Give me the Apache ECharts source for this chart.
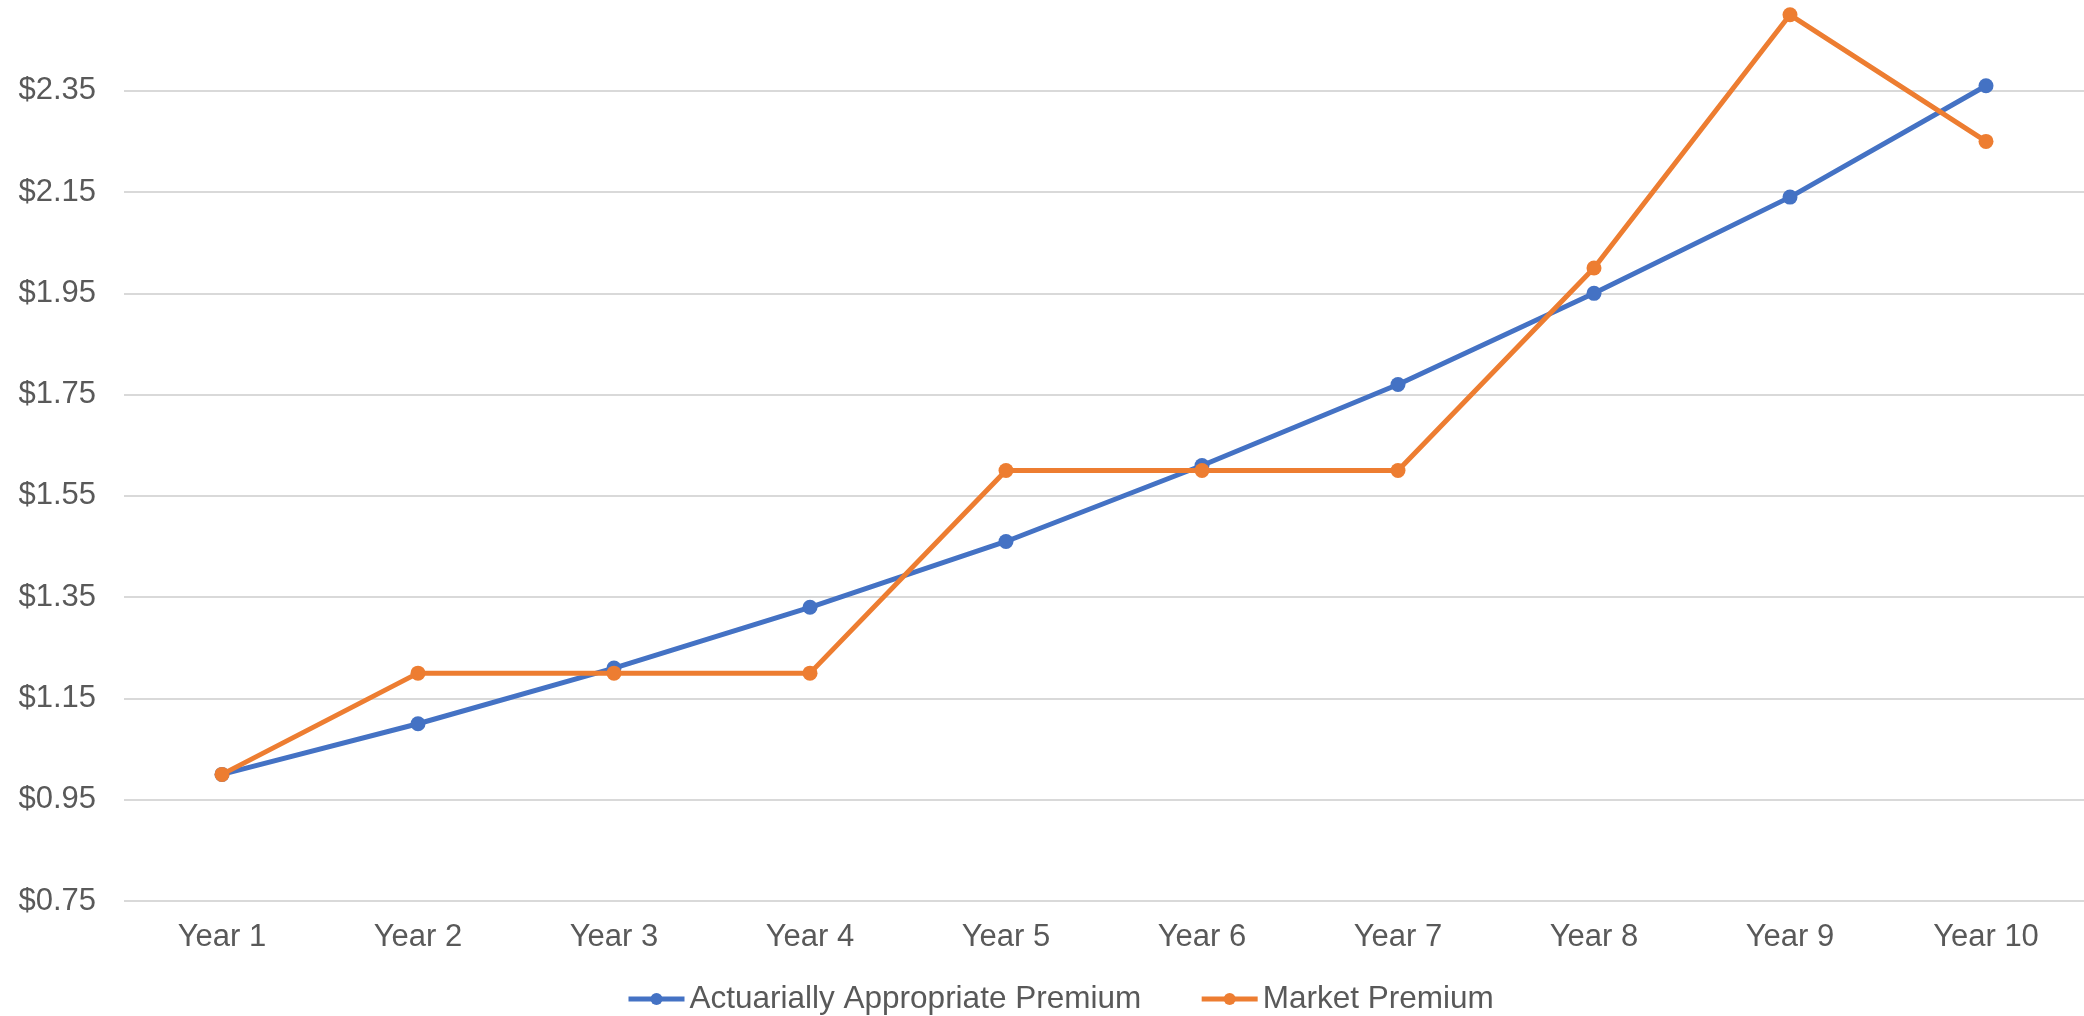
<!DOCTYPE html>
<html>
<head>
<meta charset="utf-8">
<script src="https://cdn.jsdelivr.net/npm/echarts@6/dist/echarts.min.js"></script>
<style>
html,body{margin:0;padding:0;background:#fff;}
#chart{width:2084px;height:1016px;}
</style>
</head>
<body>
<div id="chart"></div>
<script>
const categories = ['Year 1','Year 2','Year 3','Year 4','Year 5','Year 6','Year 7','Year 8','Year 9','Year 10'];
const actuarialPremium = [1.00, 1.10, 1.21, 1.33, 1.46, 1.61, 1.77, 1.95, 2.14, 2.36];
const marketPremium = [1.00, 1.20, 1.20, 1.20, 1.60, 1.60, 1.60, 2.00, 2.50, 2.25];
const seriesNames = ['Actuarially Appropriate Premium', 'Market Premium'];
const yMin = 0.75, yMax = 2.55, yStep = 0.2;

const FONT = '"Liberation Sans", Arial, sans-serif';
const TXT = '#595959';

const chart = echarts.init(document.getElementById('chart'), null, {renderer: 'canvas'});
chart.setOption({
  animation: false,
  backgroundColor: '#ffffff',
  grid: {left: 124, right: 0, top: -10.5, bottom: 115, containLabel: false, outerBoundsMode: 'none'},
  legend: {
    left: 626,
    top: 983,
    padding: 0,
    itemWidth: 56,
    itemHeight: 15,
    itemGap: 58,
    lineStyle: {width: 5},
    itemStyle: {borderWidth: 0},
    textStyle: {fontFamily: FONT, fontSize: 31.5, color: TXT, padding: [0, 0, 0, 0]},
    data: seriesNames
  },
  xAxis: {
    type: 'category',
    data: categories,
    boundaryGap: true,
    axisLine: {show: false},
    axisTick: {show: false},
    axisLabel: {fontFamily: FONT, fontSize: 31, color: TXT, margin: 21}
  },
  yAxis: {
    type: 'value',
    min: yMin,
    max: yMax,
    interval: yStep,
    axisLine: {show: false},
    axisTick: {show: false},
    splitLine: {lineStyle: {color: '#d9d9d9', width: 2}},
    axisLabel: {
      fontFamily: FONT, fontSize: 31, color: TXT, margin: 28,
      showMaxLabel: false,
      formatter: v => '$' + v.toFixed(2)
    }
  },
  series: [
    {
      name: seriesNames[0],
      type: 'line',
      data: actuarialPremium,
      color: '#4472C4',
      lineStyle: {width: 5, color: '#4472C4'},
      symbol: 'circle',
      symbolSize: 15,
      itemStyle: {color: '#4472C4'},
      z: 2
    },
    {
      name: seriesNames[1],
      type: 'line',
      data: marketPremium,
      color: '#ED7D31',
      lineStyle: {width: 5, color: '#ED7D31'},
      symbol: 'circle',
      symbolSize: 15,
      itemStyle: {color: '#ED7D31'},
      z: 3
    }
  ]
});
</script>
</body>
</html>
